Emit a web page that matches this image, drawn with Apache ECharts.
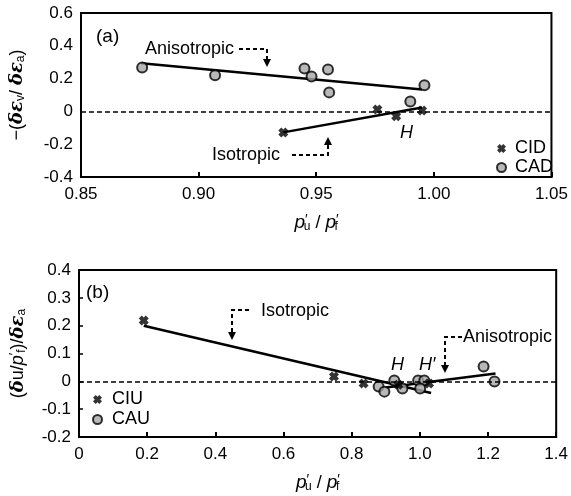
<!DOCTYPE html>
<html>
<head>
<meta charset="utf-8">
<script src="https://cdn.jsdelivr.net/npm/echarts@6/dist/echarts.min.js"></script>
<style>
  html, body { margin: 0; padding: 0; background: #fff; }
  #chart { width: 571px; height: 496px; }
</style>
</head>
<body>
<div id="chart"></div>
<script>
// ---- Panel (a): drained tests, -(dεv/dεa) vs p'u/p'f ----
const cidX = [0.936, 0.976, 0.984, 0.995];
const cidY = [-0.128, 0.012, -0.030, 0.006];
const cadX = [0.876, 0.907, 0.945, 0.948, 0.955, 0.9555, 0.990, 0.996];
const cadY = [0.268, 0.220, 0.262, 0.213, 0.256, 0.116, 0.061, 0.159];
const fitAnisoAX = [0.8756, 0.995];
const fitAnisoAY = [0.293, 0.134];
const fitIsoAX = [0.936, 0.995];
const fitIsoAY = [-0.128, 0.024];
const xTicksA = { min: 0.85, max: 1.05, step: 0.05 };
const yTicksA = { min: -0.4, max: 0.6, step: 0.2 };

// ---- Panel (b): undrained tests, (du/p'f)/dεa vs p'u/p'f ----
const ciuX = [0.190, 0.748, 0.835, 0.937, 1.027];
const ciuY = [0.219, 0.017, -0.008, -0.012, -0.008];
const cauX = [0.879, 0.896, 0.925, 0.949, 0.995, 1.013, 1.001, 1.187, 1.219];
const cauY = [-0.019, -0.037, 0.003, -0.026, 0.003, 0.003, -0.026, 0.053, -0.001];
const fitIsoBX = [0.19, 1.033];
const fitIsoBY = [0.200, -0.042];
const fitAnisoBX = [0.90, 1.222];
const fitAnisoBY = [-0.022, 0.028];
const xTicksB = { min: 0, max: 1.4, step: 0.2 };
const yTicksB = { min: -0.2, max: 0.4, step: 0.1 };

const pairs = (xs, ys) => xs.map((x, i) => [x, ys[i]]);

const FONT = '"Liberation Sans", Arial, sans-serif';
// bold "x" marker
const CROSS = 'path://M0,3 L3,0 L5,2 L7,0 L10,3 L8,5 L10,7 L7,10 L5,8 L3,10 L0,7 L2,5 Z';

const fmt1 = v => (Math.abs(v) < 1e-9 ? '0' : v.toFixed(1));
const fmt2 = v => v.toFixed(2);

function xAxisCfg(gridIndex, t, formatter) {
  return {
    type: 'value', gridIndex, min: t.min, max: t.max, interval: t.step,
    axisLine: { show: true, onZero: false, lineStyle: { color: '#000', width: 2 } },
    axisTick: { show: true, inside: true, length: 5, lineStyle: { color: '#000', width: 2 } },
    axisLabel: { color: '#000', fontSize: 17, fontFamily: FONT, margin: 9, formatter },
    splitLine: { show: false },
    name: '{p|p}{s|′}{sub|u}{t| / }{p|p}{s|′}{sub|f}',
    nameLocation: 'middle', nameGap: 36,
    nameTextStyle: {
      color: '#000', fontFamily: FONT, fontSize: 18,
      rich: {
        p: { fontStyle: 'italic', fontSize: 19, fontFamily: FONT, color: '#000' },
        s: { fontSize: 14, fontFamily: FONT, color: '#000', verticalAlign: 'top' },
        sub: { fontSize: 12, fontFamily: FONT, color: '#000', verticalAlign: 'bottom', padding: [8, 0, 0, -4] },
        t: { fontSize: 18, fontFamily: FONT, color: '#000' }
      }
    }
  };
}

function yAxisCfg(gridIndex, t, name, rich, nameGap, showTicks) {
  return {
    type: 'value', gridIndex, min: t.min, max: t.max, interval: t.step,
    axisLine: { show: true, onZero: false, lineStyle: { color: '#000', width: 2 } },
    axisTick: { show: showTicks, inside: true, length: 4, lineStyle: { color: '#000', width: 1.5 } },
    axisLabel: { color: '#000', fontSize: 17, fontFamily: FONT, margin: 8, formatter: fmt1 },
    splitLine: { show: false },
    name, nameLocation: 'middle', nameGap, nameRotate: 90,
    nameTextStyle: { color: '#000', fontFamily: FONT, fontSize: 17, rich }
  };
}

const greek = { fontFamily: '"DejaVu Serif", serif', fontStyle: 'italic', fontWeight: 'bold', fontSize: 18, color: '#000' };
const sub = { fontFamily: FONT, fontSize: 12, color: '#000', verticalAlign: 'bottom', padding: [8, 0, 0, 0] };
const plain = { fontFamily: FONT, fontSize: 18, color: '#000' };

const richA = { g: greek, sub, t: plain };
const nameA = '{t|−(}{g|δε}{sub|v}{t|/ }{g|δε}{sub|a}{t|)}';
const richB = {
  g: greek, sub, t: plain,
  p: { fontFamily: FONT, fontStyle: 'italic', fontSize: 18, color: '#000' },
  s: { fontFamily: FONT, fontSize: 13, color: '#000', verticalAlign: 'top' }
};
const nameB = '{t|(}{g|δ}{t|u/}{p|p}{s|′}{sub|f}{t|)/}{g|δε}{sub|a}';

const zeroLine = {
  silent: true, symbol: 'none', label: { show: false },
  lineStyle: { color: '#000', type: [5, 3], width: 1.5 },
  data: [{ yAxis: 0 }]
};

const fitStyle = { color: '#000', width: 2.5 };
const circleStyle = { color: '#a6a6a6', borderColor: '#000', borderWidth: 2 };
const legendText = (padLeft) => ({
  fontSize: 18, fontFamily: FONT, color: '#000', lineHeight: 19, padding: [0, 0, 0, padLeft]
});

const option = {
  animation: false,
  backgroundColor: '#fff',
  textStyle: { fontFamily: FONT },
  grid: [
    { left: 79, top: 13, width: 476, height: 164, show: true, borderColor: '#000', borderWidth: 2, backgroundColor: 'transparent' },
    { left: 77, top: 270, width: 481, height: 167, show: true, borderColor: '#000', borderWidth: 2, backgroundColor: 'transparent' }
  ],
  xAxis: [xAxisCfg(0, xTicksA, fmt2), xAxisCfg(1, xTicksB, fmt1)],
  yAxis: [
    yAxisCfg(0, yTicksA, nameA, richA, 54, false),
    yAxisCfg(1, yTicksB, nameB, richB, 51, true)
  ],
  legend: [
    {
      data: ['CID', 'CAD'], orient: 'vertical', left: 496, top: 139, itemGap: 0, padding: 0,
      itemWidth: 9, itemHeight: 9, selectedMode: false, textStyle: legendText(4)
    },
    {
      data: ['CIU', 'CAU'], orient: 'vertical', left: 92, top: 390, itemGap: 1, padding: 0,
      itemWidth: 9, itemHeight: 9, selectedMode: false, textStyle: legendText(5)
    }
  ],
  series: [
    // panel (a)
    { type: 'line', name: 'zeroA', xAxisIndex: 0, yAxisIndex: 0, data: [], markLine: zeroLine },
    { type: 'line', name: 'fitAnisoA', xAxisIndex: 0, yAxisIndex: 0, data: pairs(fitAnisoAX, fitAnisoAY), symbol: 'none', lineStyle: fitStyle, z: 3 },
    { type: 'line', name: 'fitIsoA', xAxisIndex: 0, yAxisIndex: 0, data: pairs(fitIsoAX, fitIsoAY), symbol: 'none', lineStyle: fitStyle, z: 3 },
    { type: 'scatter', name: 'CID', xAxisIndex: 0, yAxisIndex: 0, data: pairs(cidX, cidY), symbol: CROSS, symbolSize: 10, itemStyle: { color: '#000' }, z: 5 },
    { type: 'scatter', name: 'CAD', xAxisIndex: 0, yAxisIndex: 0, data: pairs(cadX, cadY), symbol: 'circle', symbolSize: 10, itemStyle: circleStyle, z: 4 },
    // panel (b)
    { type: 'line', name: 'zeroB', xAxisIndex: 1, yAxisIndex: 1, data: [], markLine: zeroLine },
    { type: 'line', name: 'fitIsoB', xAxisIndex: 1, yAxisIndex: 1, data: pairs(fitIsoBX, fitIsoBY), symbol: 'none', lineStyle: fitStyle, z: 3 },
    { type: 'line', name: 'fitAnisoB', xAxisIndex: 1, yAxisIndex: 1, data: pairs(fitAnisoBX, fitAnisoBY), symbol: 'none', lineStyle: fitStyle, z: 3 },
    { type: 'scatter', name: 'CIU', xAxisIndex: 1, yAxisIndex: 1, data: pairs(ciuX, ciuY), symbol: CROSS, symbolSize: 10, itemStyle: { color: '#000' }, z: 5 },
    { type: 'scatter', name: 'CAU', xAxisIndex: 1, yAxisIndex: 1, data: pairs(cauX, cauY), symbol: 'circle', symbolSize: 10, itemStyle: circleStyle, z: 4 }
  ]
};

const chart = echarts.init(document.getElementById('chart'), null, { renderer: 'canvas' });
chart.setOption(option);

// Annotation text, dashed leader arrows and panel tags
const txt = (x, y, text, extra) => ({
  type: 'text', x, y, z: 20,
  style: Object.assign({ text, fill: '#000', font: '18px ' + FONT, textVerticalAlign: 'middle' }, extra || {})
});
const dash = (points) => ({
  type: 'polyline', z: 20, shape: { points },
  style: { stroke: '#000', lineWidth: 2, lineDash: [4, 3], fill: null }
});
const headDown = (x, y) => ({
  type: 'polygon', z: 20, shape: { points: [[x - 4, y - 8], [x + 4, y - 8], [x, y]] }, style: { fill: '#000' }
});
const headUp = (x, y) => ({
  type: 'polygon', z: 20, shape: { points: [[x - 4, y + 8], [x + 4, y + 8], [x, y]] }, style: { fill: '#000' }
});

chart.setOption({
  graphic: [
    txt(96, 37, '(a)', { font: '19px ' + FONT }),
    txt(145, 49, 'Anisotropic'),
    dash([[239, 49], [267, 49], [267, 60]]),
    headDown(267, 67),
    txt(212, 155, 'Isotropic'),
    dash([[292, 155], [328, 155], [328, 145]]),
    headUp(328, 137),
    txt(400, 133, 'H', { font: 'italic 18px ' + FONT }),

    txt(86, 293, '(b)', { font: '19px ' + FONT }),
    txt(261, 311, 'Isotropic'),
    dash([[249, 310], [232, 310], [232, 333]]),
    headDown(232, 340),
    txt(463, 337, 'Anisotropic'),
    dash([[462, 337], [445, 337], [445, 366]]),
    headDown(445, 373),
    txt(391, 365, 'H', { font: 'italic 18px ' + FONT }),
    txt(419, 365, 'H′', { font: 'italic 18px ' + FONT })
  ]
});
</script>
</body>
</html>
